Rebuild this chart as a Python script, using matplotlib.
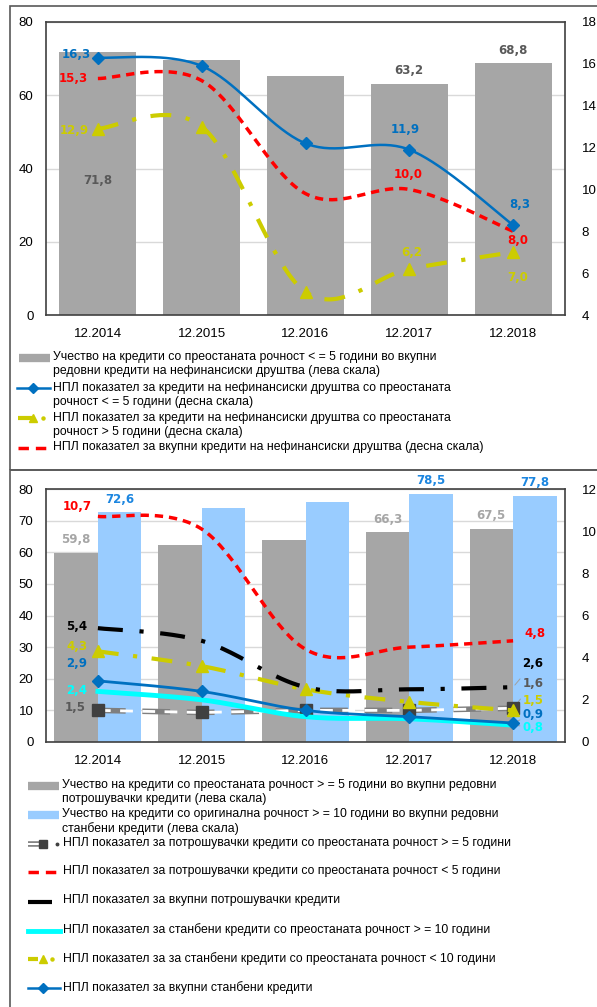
import numpy as np
import matplotlib
matplotlib.use("Agg")
import matplotlib.pyplot as plt
from matplotlib.lines import Line2D
from matplotlib.patches import Rectangle

W, H = 597, 1007

years = ['12.2014', '12.2015', '12.2016', '12.2017', '12.2018']

# top chart: non-financial companies
share_short = [71.8, 69.6, 65.3, 63.2, 68.8]
npl_short = [16.3, 15.9, 12.2, 11.9, 8.3]
npl_long = [12.9, 13.0, 5.1, 6.2, 7.0]
npl_total = [15.3, 15.2, 9.8, 10.0, 8.0]

# bottom chart: households
share_cons = [59.8, 62.4, 63.8, 66.3, 67.5]
share_hous = [72.6, 73.9, 76.0, 78.5, 77.8]
npl_cons_long = [1.5, 1.4, 1.5, 1.5, 1.6]
npl_cons_short = [10.7, 10.1, 4.4, 4.5, 4.8]
npl_cons_total = [5.4, 4.8, 2.6, 2.5, 2.6]
npl_hous_long = [2.4, 2.0, 1.2, 1.1, 0.8]
npl_hous_short = [4.3, 3.6, 2.5, 1.9, 1.5]
npl_hous_total = [2.9, 2.4, 1.5, 1.2, 0.9]

legend_top = [
    'Учество на кредити со преостаната рочност < = 5 години во вкупни\nредовни кредити на нефинансиски друштва (лева скала)',
    'НПЛ показател за кредити на нефинансиски друштва со преостаната\nрочност < = 5 години (десна скала)',
    'НПЛ показател за кредити на нефинансиски друштва со преостаната\nрочност > 5 години (десна скала)',
    'НПЛ показател за вкупни кредити на нефинансиски друштва (десна скала)',
]
legend_bot = [
    'Учество на кредити со преостаната рочност > = 5 години во вкупни редовни\nпотрошувачки кредити (лева скала)',
    'Учество на кредити со оригинална рочност > = 10 години во вкупни редовни\nстанбени кредити (лева скала)',
    'НПЛ показател за потрошувачки кредити со преостаната рочност > = 5 години',
    'НПЛ показател за потрошувачки кредити со преостаната рочност < 5 години',
    'НПЛ показател за вкупни потрошувачки кредити',
    'НПЛ показател за станбени кредити со преостаната рочност > = 10 години',
    'НПЛ показател за за станбени кредити со преостаната рочност < 10 години',
    'НПЛ показател за вкупни станбени кредити',
]

GREY = '#A6A6A6'
LBLUE = '#99CCFF'
BLUE = '#0070C0'
RED = '#FF0000'
YEL = '#CCCC00'
CYAN = '#00FFFF'
DGREY = '#595959'

plt.rcParams['font.family'] = ['Liberation Sans', 'DejaVu Sans']
LBL = dict(fontsize=8.5, fontweight='bold', family='DejaVu Sans', ha='center', va='center')

DASH_RED = (2.4, 1.7)
DASH_YEL = (5, 3.5, 1, 3.5)
DASH_BLK = (6, 4, 1, 4)


def smooth(xs, ys, n=40):
    # excel style bezier smoothing between points
    p = np.column_stack([xs, ys]).astype(float)
    out = []
    for i in range(len(p) - 1):
        prev = p[i - 1] if i > 0 else p[i]
        nxt = p[i + 2] if i + 2 < len(p) else p[i + 1]
        c1 = p[i] + (p[i + 1] - prev) / 6
        c2 = p[i + 1] - (nxt - p[i]) / 6
        t = np.linspace(0, 1, n)[:, None]
        seg = ((1 - t) ** 3) * p[i] + 3 * ((1 - t) ** 2) * t * c1 + 3 * (1 - t) * t ** 2 * c2 + t ** 3 * p[i + 1]
        out.append(seg if i == 0 else seg[1:])
    s = np.vstack(out)
    return s[:, 0], s[:, 1]


def fmt(v):
    return f'{v:.1f}'.replace('.', ',')


def lab(ax, x, y, v, dx, dy, color, leader=False):
    kw = {}
    if leader:
        kw['arrowprops'] = dict(arrowstyle='-', color='#A0A0A0', lw=0.7, shrinkA=6, shrinkB=2)
    ax.annotate(fmt(v), (x, y), xytext=(dx, -dy), textcoords='offset pixels',
                color=color, annotation_clip=False, **LBL, **kw)


def fx(px):
    return px / W


def fy(py):
    return 1 - py / H


def style_axes(ax, ax2):
    ax.set_xlim(-0.5, 4.5)
    ax.set_axisbelow(True)
    ax.yaxis.grid(True, color='#D9D9D9', lw=1)
    for s in ax.spines.values():
        s.set_color('#404040')
        s.set_linewidth(1.2)
    for s in ax2.spines.values():
        s.set_visible(False)
    ax.tick_params(axis='both', length=0, labelsize=9.5, colors='#000000')
    ax.tick_params(axis='y', pad=9)
    ax.tick_params(axis='x', pad=9)
    ax2.tick_params(axis='y', length=0, labelsize=9.5, pad=12)
    ax.set_xticks(range(5))
    ax.set_xticklabels(years)


fig = plt.figure(figsize=(W / 100, H / 100), dpi=100)

# panel frames
fig.add_artist(Rectangle((fx(10), fy(470)), 1, fy(5.5) - fy(470), transform=fig.transFigure,
                         fill=False, ec='#595959', lw=1.2))
fig.add_artist(Rectangle((fx(10), fy(1020)), 1, fy(470) - fy(1020), transform=fig.transFigure,
                         fill=False, ec='#595959', lw=1.2))

x = np.arange(5)

# ---------------- top chart ----------------
ax = fig.add_axes([fx(46), fy(315), fx(565) - fx(46), fy(22) - fy(315)])
ax2 = ax.twinx()
ax.bar(x, share_short, width=0.74, color=GREY, zorder=2)
ax.set_ylim(0, 80)
ax.set_yticks(range(0, 81, 20))
ax2.set_ylim(4, 18)
ax2.set_yticks(range(4, 19, 2))
style_axes(ax, ax2)

sx, sy = smooth(x, npl_long)
ax2.plot(sx, sy, color=YEL, lw=3, dashes=DASH_YEL, zorder=3)
ax2.plot(x, npl_long, ls='none', marker='^', ms=8, color=YEL, zorder=4)
sx, sy = smooth(x, npl_total)
ax2.plot(sx, sy, color=RED, lw=2.5, dashes=DASH_RED, zorder=3)
sx, sy = smooth(x, npl_short)
ax2.plot(sx, sy, color=BLUE, lw=1.8, zorder=4)
ax2.plot(x, npl_short, ls='none', marker='D', ms=6, color=BLUE, zorder=5)

ax.annotate(fmt(share_short[0]), (0, share_short[0] / 2), xytext=(0, 3), textcoords='offset pixels',
            color=DGREY, **LBL)
for i in (3, 4):
    ax.annotate(fmt(share_short[i]), (i, share_short[i]), xytext=(0, 13), textcoords='offset pixels',
                color=DGREY, **LBL)
lab(ax2, 0, npl_short[0], npl_short[0], -22, -3, BLUE)
lab(ax2, 0, npl_total[0], npl_total[0], -25, 0, RED)
lab(ax2, 0, npl_long[0], npl_long[0], -24, 2, YEL)
lab(ax2, 3, npl_short[3], npl_short[3], -4, -20, BLUE)
lab(ax2, 3, npl_total[3], npl_total[3], -1, -15, RED)
lab(ax2, 3, npl_long[3], npl_long[3], 2, -16, YEL)
lab(ax2, 4, npl_short[4], npl_short[4], 7, -21, BLUE)
lab(ax2, 4, npl_total[4], npl_total[4], 5, 9, RED)
lab(ax2, 4, npl_long[4], npl_long[4], 5, 25, YEL)

# top legend
def txt(px, py, s):
    fig.text(fx(px), fy(py), s, fontsize=8.8, va='top', ha='left', linespacing=1.25)


def hline(x0, x1, py, **kw):
    fig.add_artist(Line2D([fx(x0), fx(x1)], [fy(py), fy(py)], transform=fig.transFigure, **kw))


def hmark(px, py, **kw):
    fig.add_artist(Line2D([fx(px)], [fy(py)], transform=fig.transFigure, ls='none', **kw))


ty = [351, 382, 412, 441]
hline(19, 50, 358, color=GREY, lw=6, solid_capstyle='butt')
hline(17, 50, 388, color=BLUE, lw=1.8)
hmark(33, 388, marker='D', ms=5, color=BLUE)
hline(18, 34, 418, color=YEL, lw=3, solid_capstyle='butt')
hmark(33, 418, marker='^', ms=6, color=YEL)
hmark(43, 418, marker='o', ms=2.2, color=YEL)
hline(18, 50, 448, color=RED, lw=2.5, dashes=(3, 2))
for py, s in zip(ty, legend_top):
    txt(53, py, s)

# ---------------- bottom chart ----------------
bx = fig.add_axes([fx(46), fy(742), fx(565) - fx(46), fy(489) - fy(742)])
bx2 = bx.twinx()
bx.bar(x - 0.21, share_cons, width=0.42, color=GREY, zorder=2)
bx.bar(x + 0.21, share_hous, width=0.42, color=LBLUE, zorder=2)
bx.set_ylim(0, 80)
bx.set_yticks(range(0, 81, 10))
bx2.set_ylim(0, 12)
bx2.set_yticks(range(0, 13, 2))
style_axes(bx, bx2)

# grey compound dashed line
bx2.plot(x, npl_cons_long, color='#7F7F7F', lw=4, dashes=(5, 3), zorder=3)
bx2.plot(x, npl_cons_long, color='white', lw=2, dashes=(4.6, 3.4), zorder=3)
bx2.plot(x, npl_cons_long, ls='none', marker='s', ms=8, color='#404040', zorder=4)
sx, sy = smooth(x, npl_hous_long)
bx2.plot(sx, sy, color=CYAN, lw=3.5, zorder=4)
sx, sy = smooth(x, npl_hous_total)
bx2.plot(sx, sy, color=BLUE, lw=2, zorder=5)
bx2.plot(x, npl_hous_total, ls='none', marker='D', ms=6.5, color=BLUE, zorder=6)
sx, sy = smooth(x, npl_hous_short)
bx2.plot(sx, sy, color=YEL, lw=3, dashes=DASH_YEL, zorder=4)
bx2.plot(x, npl_hous_short, ls='none', marker='^', ms=8, color=YEL, zorder=5)
sx, sy = smooth(x, npl_cons_total)
bx2.plot(sx, sy, color='black', lw=3, dashes=DASH_BLK, zorder=4)
sx, sy = smooth(x, npl_cons_short)
bx2.plot(sx, sy, color=RED, lw=2.5, dashes=DASH_RED, zorder=4)

for i in (0, 3, 4):
    bx.annotate(fmt(share_cons[i]), (i - 0.21, share_cons[i]), xytext=(0, 13),
                textcoords='offset pixels', color=GREY, annotation_clip=False, **LBL)
    bx.annotate(fmt(share_hous[i]), (i + 0.21, share_hous[i]), xytext=(0, 13),
                textcoords='offset pixels', color='#1C86E0', annotation_clip=False, **LBL)

lab(bx2, 0, npl_cons_short[0], npl_cons_short[0], -21, -10, RED)
lab(bx2, 0, npl_cons_total[0], npl_cons_total[0], -21, -2, 'black')
lab(bx2, 0, npl_hous_short[0], npl_hous_short[0], -21, -5, YEL)
lab(bx2, 0, npl_hous_total[0], npl_hous_total[0], -21, -17, BLUE)
lab(bx2, 0, npl_hous_long[0], npl_hous_long[0], -21, -1, CYAN)
lab(bx2, 0, npl_cons_long[0], npl_cons_long[0], -23, -3, DGREY)
lab(bx2, 4, npl_cons_short[4], npl_cons_short[4], 22, -7, RED)
lab(bx2, 4, npl_cons_total[4], npl_cons_total[4], 20, -24, 'black', True)
lab(bx2, 4, npl_cons_long[4], npl_cons_long[4], 20, -25, DGREY, True)
lab(bx2, 4, npl_hous_short[4], npl_hous_short[4], 20, -10, YEL, True)
lab(bx2, 4, npl_hous_total[4], npl_hous_total[4], 20, -9, BLUE, True)
lab(bx2, 4, npl_hous_long[4], npl_hous_long[4], 20, 2, CYAN, True)

# bottom legend
by = [779, 808, 837, 865, 894, 923, 952, 981]
hy = [786, 815, 844, 872, 902, 931, 959, 988]
hline(28, 59, hy[0], color=GREY, lw=6, solid_capstyle='butt')
hline(28, 59, hy[1], color=LBLUE, lw=6, solid_capstyle='butt')
hline(28, 44, hy[2], color='#7F7F7F', lw=4, solid_capstyle='butt')
hline(28, 44, hy[2], color='white', lw=1.5, solid_capstyle='butt')
hmark(43, hy[2], marker='s', ms=6, color='#404040')
hmark(57, hy[2], marker='o', ms=1.8, color='#404040')
hline(28, 58, hy[3], color=RED, lw=2.5, dashes=(3, 2))
hline(28, 52, hy[4], color='black', lw=3, solid_capstyle='butt')
hline(28, 60, hy[5], color=CYAN, lw=3.5)
hline(28, 38, hy[6], color=YEL, lw=3, solid_capstyle='butt')
hmark(43, hy[6], marker='^', ms=6, color=YEL)
hmark(52, hy[6], marker='o', ms=2.2, color=YEL)
hline(28, 60, hy[7], color=BLUE, lw=1.8)
hmark(43, hy[7], marker='D', ms=5, color=BLUE)
for i, (py, s) in enumerate(zip(by, legend_bot)):
    txt(61.5 if i < 2 else 63, py, s)

fig.savefig('out.png', dpi=100)
